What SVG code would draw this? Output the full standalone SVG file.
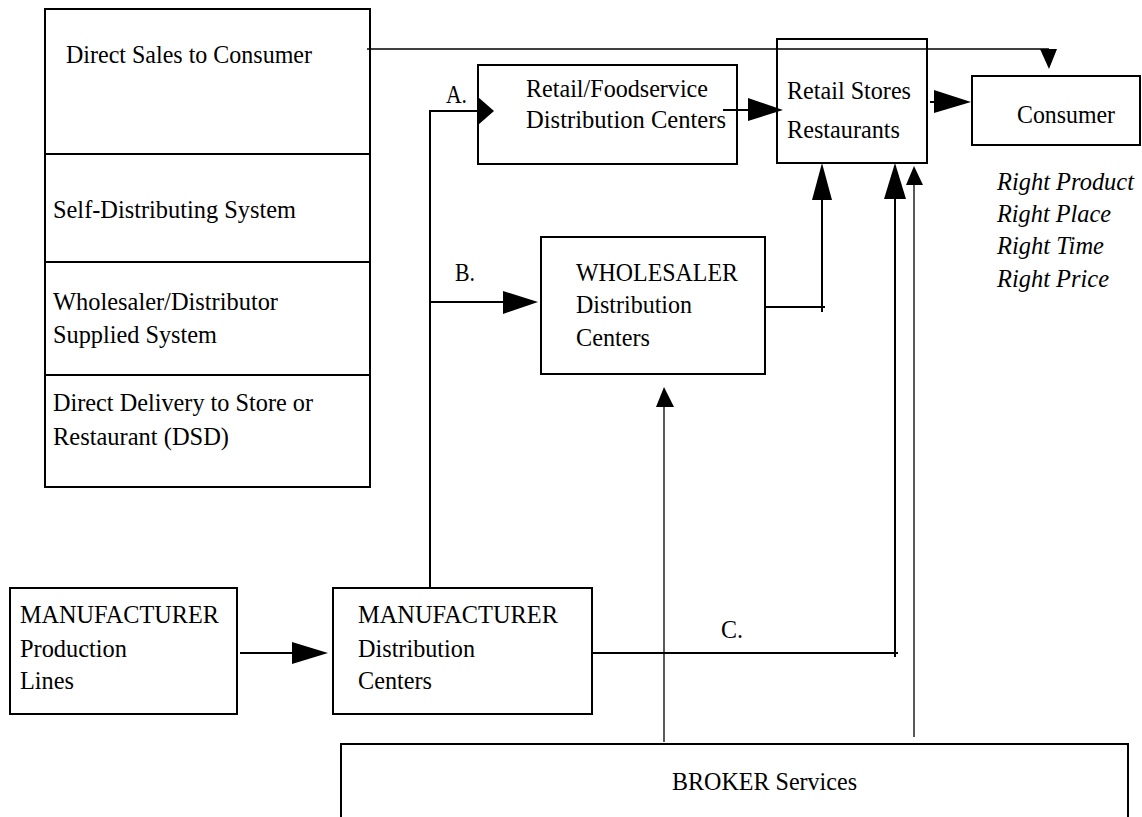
<svg xmlns="http://www.w3.org/2000/svg" width="1142" height="817" viewBox="0 0 1142 817">
<style>
  .box { fill: #fff; stroke: #000; stroke-width: 2; }
  .t { font-family: "Liberation Serif", "Times New Roman", serif; font-size: 26px; fill: #000; }
  .i { font-style: italic; }
  .ln { fill: none; stroke: #000; stroke-width: 2; }
  .thin { fill: none; stroke: #000; stroke-width: 1.3; }
  .ah { fill: #000; stroke: none; }
</style>
<rect width="1142" height="817" fill="#fff"/>

<g id="channels">
  <rect class="box" x="45" y="9" width="325" height="478"/>
  <line class="ln" x1="45" y1="154" x2="370" y2="154"/>
  <line class="ln" x1="45" y1="262" x2="370" y2="262"/>
  <line class="ln" x1="45" y1="375" x2="370" y2="375"/>
  <text class="t" x="66" y="63" textLength="246" lengthAdjust="spacingAndGlyphs">Direct Sales to Consumer</text>
  <text class="t" x="53" y="218" textLength="243" lengthAdjust="spacingAndGlyphs">Self-Distributing System</text>
  <text class="t" x="53" y="310" textLength="225" lengthAdjust="spacingAndGlyphs">Wholesaler/Distributor</text>
  <text class="t" x="53" y="343" textLength="164" lengthAdjust="spacingAndGlyphs">Supplied System</text>
  <text class="t" x="53" y="411" textLength="260" lengthAdjust="spacingAndGlyphs">Direct Delivery to Store or</text>
  <text class="t" x="53" y="445" textLength="176" lengthAdjust="spacingAndGlyphs">Restaurant (DSD)</text>
</g>

<g id="connectors">
  <!-- direct sales to consumer -->
  <line class="thin" x1="367" y1="49" x2="1049" y2="49"/>
  <polygon class="ah" points="1040,49 1049,69 1057,49"/>
  <!-- A -->
  <polyline class="ln" points="430,588 430,111 478,111"/>
  <polygon class="ah" points="478,97 494,111 478,125"/>
  <!-- B -->
  <line class="ln" x1="430" y1="302" x2="503" y2="302"/>
  <polygon class="ah" points="503,291 538,302 503,314"/>
  <!-- Retail/FS to Retail Stores -->
  <line class="ln" x1="723" y1="110" x2="748" y2="110"/>
  <polygon class="ah" points="748,98 783,110 748,121"/>
  <!-- Retail Stores to Consumer -->
  <line class="ln" x1="930" y1="102" x2="934" y2="102"/>
  <polygon class="ah" points="934,90 971,102 934,113"/>
  <!-- Wholesaler to Retail Stores -->
  <polyline class="ln" points="765,307 825,307"/>
  <line class="ln" x1="822" y1="312" x2="822" y2="200"/>
  <polygon class="ah" points="812,200 822,163 832,200"/>
  <!-- C -->
  <line class="ln" x1="590" y1="653" x2="898" y2="653"/>
  <line class="ln" x1="895" y1="657" x2="895" y2="199"/>
  <polygon class="ah" points="884,199 895,163 906,199"/>
  <!-- Broker to Retail Stores -->
  <line class="thin" x1="914" y1="737" x2="914" y2="185"/>
  <polygon class="ah" points="906,185 914,166 923,185"/>
  <!-- Broker to Wholesaler -->
  <line class="thin" x1="664" y1="742" x2="664" y2="407"/>
  <polygon class="ah" points="656,407 664,387 674,407"/>
  <!-- MFR production to MFR distribution -->
  <line class="ln" x1="240" y1="653" x2="292" y2="653"/>
  <polygon class="ah" points="292,642 328,653 292,664"/>
  <!-- labels -->
  <text class="t" x="446" y="103" textLength="21" lengthAdjust="spacingAndGlyphs">A.</text>
  <text class="t" x="455" y="281" textLength="20" lengthAdjust="spacingAndGlyphs">B.</text>
  <text class="t" x="721" y="638" textLength="22" lengthAdjust="spacingAndGlyphs">C.</text>
</g>

<g id="retail-fs-dc">
  <rect class="box" x="478" y="65" width="259" height="99" fill="none" style="fill:none"/>
  <text class="t" x="526" y="97" textLength="182" lengthAdjust="spacingAndGlyphs">Retail/Foodservice</text>
  <text class="t" x="526" y="128" textLength="200" lengthAdjust="spacingAndGlyphs">Distribution Centers</text>
</g>

<g id="retail-stores">
  <rect class="box" x="777" y="39" width="150" height="124" style="fill:none"/>
  <text class="t" x="787" y="99" textLength="124" lengthAdjust="spacingAndGlyphs">Retail Stores</text>
  <text class="t" x="787" y="138" textLength="113" lengthAdjust="spacingAndGlyphs">Restaurants</text>
</g>

<g id="consumer">
  <rect class="box" x="972" y="76" width="168" height="69"/>
  <text class="t" x="1017" y="123" textLength="98" lengthAdjust="spacingAndGlyphs">Consumer</text>
</g>

<g id="rights">
  <text class="t i" x="997" y="190" textLength="137" lengthAdjust="spacingAndGlyphs">Right Product</text>
  <text class="t i" x="997" y="222" textLength="114" lengthAdjust="spacingAndGlyphs">Right Place</text>
  <text class="t i" x="997" y="254" textLength="107" lengthAdjust="spacingAndGlyphs">Right Time</text>
  <text class="t i" x="997" y="287" textLength="112" lengthAdjust="spacingAndGlyphs">Right Price</text>
</g>

<g id="wholesaler">
  <rect class="box" x="541" y="237" width="224" height="137" style="fill:none"/>
  <text class="t" x="576" y="281" textLength="162" lengthAdjust="spacingAndGlyphs">WHOLESALER</text>
  <text class="t" x="576" y="313" textLength="116" lengthAdjust="spacingAndGlyphs">Distribution</text>
  <text class="t" x="576" y="346" textLength="74" lengthAdjust="spacingAndGlyphs">Centers</text>
</g>

<g id="mfr-production">
  <rect class="box" x="10" y="588" width="227" height="126"/>
  <text class="t" x="20" y="623" textLength="199" lengthAdjust="spacingAndGlyphs">MANUFACTURER</text>
  <text class="t" x="20" y="657" textLength="107" lengthAdjust="spacingAndGlyphs">Production</text>
  <text class="t" x="20" y="689" textLength="54" lengthAdjust="spacingAndGlyphs">Lines</text>
</g>

<g id="mfr-distribution">
  <rect class="box" x="333" y="588" width="259" height="126"/>
  <text class="t" x="358" y="623" textLength="200" lengthAdjust="spacingAndGlyphs">MANUFACTURER</text>
  <text class="t" x="358" y="657" textLength="117" lengthAdjust="spacingAndGlyphs">Distribution</text>
  <text class="t" x="358" y="689" textLength="74" lengthAdjust="spacingAndGlyphs">Centers</text>
</g>

<g id="broker">
  <rect class="box" x="341" y="744" width="787" height="100"/>
  <text class="t" x="672" y="790" textLength="185" lengthAdjust="spacingAndGlyphs">BROKER Services</text>
</g>
</svg>
